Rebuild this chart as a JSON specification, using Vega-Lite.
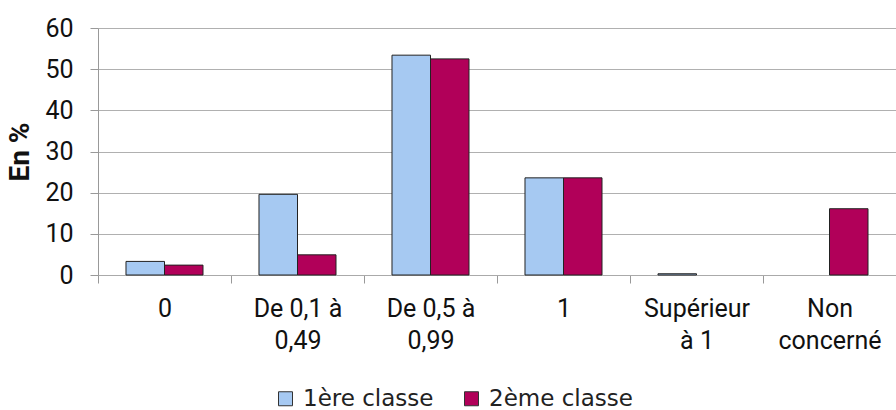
{
  "$schema": "https://vega.github.io/schema/vega-lite/v6.json",
  "autosize": "none",
  "width": 798,
  "height": 247,
  "padding": {"left": 98, "top": 28, "right": 0, "bottom": 135},
  "background": "white",
  "data": {
    "values": [
      {"cat": "0", "serie": "1ère classe", "value": 3.3},
      {"cat": "0", "serie": "2ème classe", "value": 2.4},
      {"cat": "De 0,1 à|0,49", "serie": "1ère classe", "value": 19.6},
      {"cat": "De 0,1 à|0,49", "serie": "2ème classe", "value": 4.9},
      {"cat": "De 0,5 à|0,99", "serie": "1ère classe", "value": 53.4},
      {"cat": "De 0,5 à|0,99", "serie": "2ème classe", "value": 52.5},
      {"cat": "1", "serie": "1ère classe", "value": 23.6},
      {"cat": "1", "serie": "2ème classe", "value": 23.6},
      {"cat": "Supérieur|à 1", "serie": "1ère classe", "value": 0.3},
      {"cat": "Non|concerné", "serie": "2ème classe", "value": 16.1}
    ]
  },
  "mark": {"type": "bar", "stroke": "#222222", "strokeWidth": 1},
  "encoding": {
    "x": {
      "field": "cat",
      "type": "nominal",
      "sort": null,
      "scale": {"paddingInner": 0, "paddingOuter": 0},
      "axis": {
        "title": null,
        "labelAngle": 0,
        "labelExpr": "split(datum.label, '|')",
        "labelFont": "Roboto",
        "labelFontSize": 25,
        "labelLineHeight": 32,
        "labelColor": "#111111",
        "labelPadding": 13,
        "tickBand": "extent",
        "tickSize": 8,
        "tickColor": "#999999",
        "domainColor": "#aaaaaa",
        "grid": false
      }
    },
    "xOffset": {
      "field": "serie",
      "type": "nominal",
      "scale": {"domain": ["1ère classe", "2ème classe"], "paddingInner": 0, "paddingOuter": 0.727}
    },
    "y": {
      "field": "value",
      "type": "quantitative",
      "scale": {"domain": [0, 60], "nice": false},
      "axis": {
        "title": "En %",
        "titleFont": "Roboto",
        "titleFontSize": 28,
        "titleFontWeight": "bold",
        "titleColor": "#111111",
        "titlePadding": 10,
        "values": [0, 10, 20, 30, 40, 50, 60],
        "labelFont": "Roboto",
        "labelFontSize": 25,
        "labelColor": "#111111",
        "labelPadding": 17,
        "tickSize": 8,
        "tickColor": "#999999",
        "domainColor": "#999999",
        "gridColor": "#b0b0b0",
        "gridWidth": 1.2
      }
    },
    "color": {
      "field": "serie",
      "type": "nominal",
      "scale": {"domain": ["1ère classe", "2ème classe"], "range": ["#a6c9f2", "#b10059"]},
      "legend": {
        "title": null,
        "orient": "none",
        "direction": "horizontal",
        "legendX": 176,
        "legendY": 359,
        "symbolType": "square",
        "symbolSize": 196,
        "symbolStrokeColor": "#333333",
        "symbolStrokeWidth": 1,
        "labelFont": "DejaVu Sans",
        "labelFontSize": 23,
        "labelColor": "#222222",
        "labelOffset": 6,
        "columnPadding": 26
      }
    }
  },
  "config": {"view": {"stroke": null}}
}
